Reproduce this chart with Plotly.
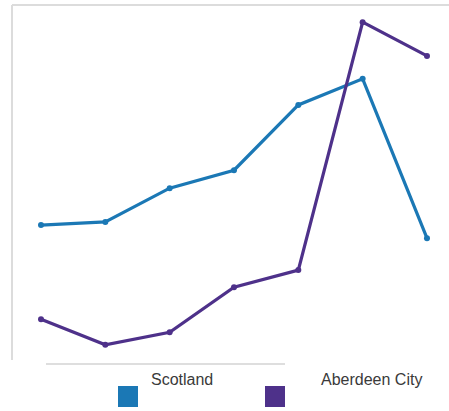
import plotly.graph_objects as go

# Series values (index units), seven periods each
periods = [1, 2, 3, 4, 5, 6, 7]
scotland = [3.22, 3.29, 4.04, 4.44, 5.89, 6.47, 2.93]
aberdeen = [1.13, 0.56, 0.84, 1.84, 2.22, 7.73, 6.98]
series_names = ["Scotland", "Aberdeen City"]

BLUE = "#1b78b5"
PURPLE = "#4e318a"

fig = go.Figure()
for name, vals, col in [(series_names[0], scotland, BLUE), (series_names[1], aberdeen, PURPLE)]:
    fig.add_trace(go.Scatter(
        x=periods, y=vals, mode="lines+markers", name=name,
        line=dict(color=col, width=3.2),
        marker=dict(color=col, size=6),
        cliponaxis=False, showlegend=False,
    ))

W, H = 449, 411
fig.update_layout(
    width=W, height=H,
    margin=dict(l=0, r=0, t=0, b=0),
    paper_bgcolor="white", plot_bgcolor="white",
    xaxis=dict(range=[1 - 41 / 64.33, 1 + (W - 41) / 64.33], visible=False, fixedrange=True),
    yaxis=dict(range=[-41 / 45, 370 / 45], visible=False, fixedrange=True),
)

def px(x):
    return x / W

def py(y):
    return 1 - y / H

frame = "#dcdcdc"
shapes = [
    # top and left frame edges
    dict(type="line", xref="paper", yref="paper", x0=px(12), x1=1, y0=py(5), y1=py(5),
         line=dict(color=frame, width=2)),
    dict(type="line", xref="paper", yref="paper", x0=px(12), x1=px(12), y0=py(5), y1=py(360),
         line=dict(color=frame, width=2)),
    # baseline under the plot
    dict(type="line", xref="paper", yref="paper", x0=px(46), x1=px(285), y0=py(364), y1=py(364),
         line=dict(color="#bdbdbd", width=1)),
    # legend swatches
    dict(type="rect", xref="paper", yref="paper", x0=px(118), x1=px(138), y0=py(407), y1=py(386),
         fillcolor=BLUE, line=dict(width=0)),
    dict(type="rect", xref="paper", yref="paper", x0=px(265), x1=px(285), y0=py(407), y1=py(386),
         fillcolor=PURPLE, line=dict(width=0)),
]
fig.update_layout(shapes=shapes)

label_font = dict(family="Liberation Sans, Arial", size=16, color="#3a3a3a")
fig.add_annotation(x=px(149), y=py(379), xref="paper", yref="paper", text=series_names[0],
                   showarrow=False, xanchor="left", yanchor="middle", font=label_font)
fig.add_annotation(x=px(319), y=py(379), xref="paper", yref="paper", text=series_names[1],
                   showarrow=False, xanchor="left", yanchor="middle", font=label_font)

fig.write_html("out.html", config={"displayModeBar": False})
